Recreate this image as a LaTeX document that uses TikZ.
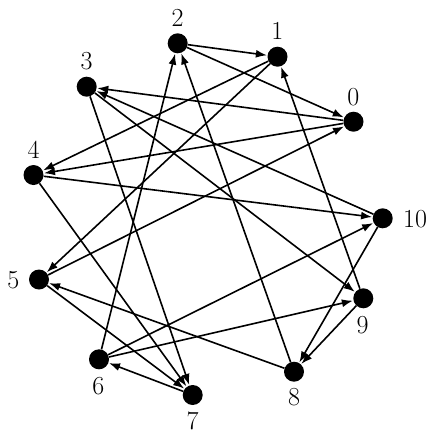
\documentclass[tikz,border=0pt]{standalone}
\usetikzlibrary{arrows.meta}
\begin{document}
\begin{tikzpicture}[x=1pt,y=-1pt,
  vtx/.style={circle,fill=black,inner sep=0pt,minimum size=20pt},
  lbl/.style={font=\fontsize{26}{30}\selectfont,inner sep=0pt},
  edge/.style={line width=1.6pt,-{Latex[length=11pt,width=8pt]},shorten >=0.5pt}]
\useasboundingbox (0,0) rectangle (437,440);
\node[vtx] (n0) at (353.5,121.7) {};
\node[vtx] (n1) at (277.5,56.7) {};
\node[vtx] (n2) at (177.7,43.3) {};
\node[vtx] (n3) at (86.7,86.7) {};
\node[vtx] (n4) at (33.5,175) {};
\node[vtx] (n5) at (39,279.5) {};
\node[vtx] (n6) at (99,359.3) {};
\node[vtx] (n7) at (192.7,395) {};
\node[vtx] (n8) at (294,371.7) {};
\node[vtx] (n9) at (363.3,298.3) {};
\node[vtx] (n10) at (382.7,218.3) {};
\node[lbl] (l0) at (353.3,96.7) {0};
\node[lbl] (l1) at (277.3,30.7) {1};
\node[lbl] (l2) at (177.5,17.5) {2};
\node[lbl] (l3) at (86.7,61.5) {3};
\node[lbl] (l4) at (33.5,150) {4};
\node[lbl] (l5) at (13.3,280) {5};
\node[lbl] (l6) at (98.3,386.5) {6};
\node[lbl] (l7) at (192.7,421) {7};
\node[lbl] (l8) at (294,397.5) {8};
\node[lbl] (l9) at (362.5,325.5) {9};
\node[lbl] (l10) at (415,219) {10};
\draw[edge] (n2) -- (n1);
\draw[edge] (n2) -- (n0);
\draw[edge] (n6) -- (n2);
\draw[edge] (n8) -- (n2);
\draw[edge] (n1) -- (n4);
\draw[edge] (n1) -- (n5);
\draw[edge] (n9) -- (n1);
\draw[edge] (n0) -- (n3);
\draw[edge] (n0) -- (n4);
\draw[edge] (n5) -- (n0);
\draw[edge] (n10) -- (n3);
\draw[edge] (n3) -- (n9);
\draw[edge] (n3) -- (n7);
\draw[edge] (n4) -- (n10);
\draw[edge] (n4) -- (n7);
\draw[edge] (n5) -- (n7);
\draw[edge] (n8) -- (n5);
\draw[edge] (n6) -- (n10);
\draw[edge] (n6) -- (n9);
\draw[edge] (n7) -- (n6);
\draw[edge] (n9) -- (n8);
\draw[edge] (n10) -- (n8);
\end{tikzpicture}
\end{document}
